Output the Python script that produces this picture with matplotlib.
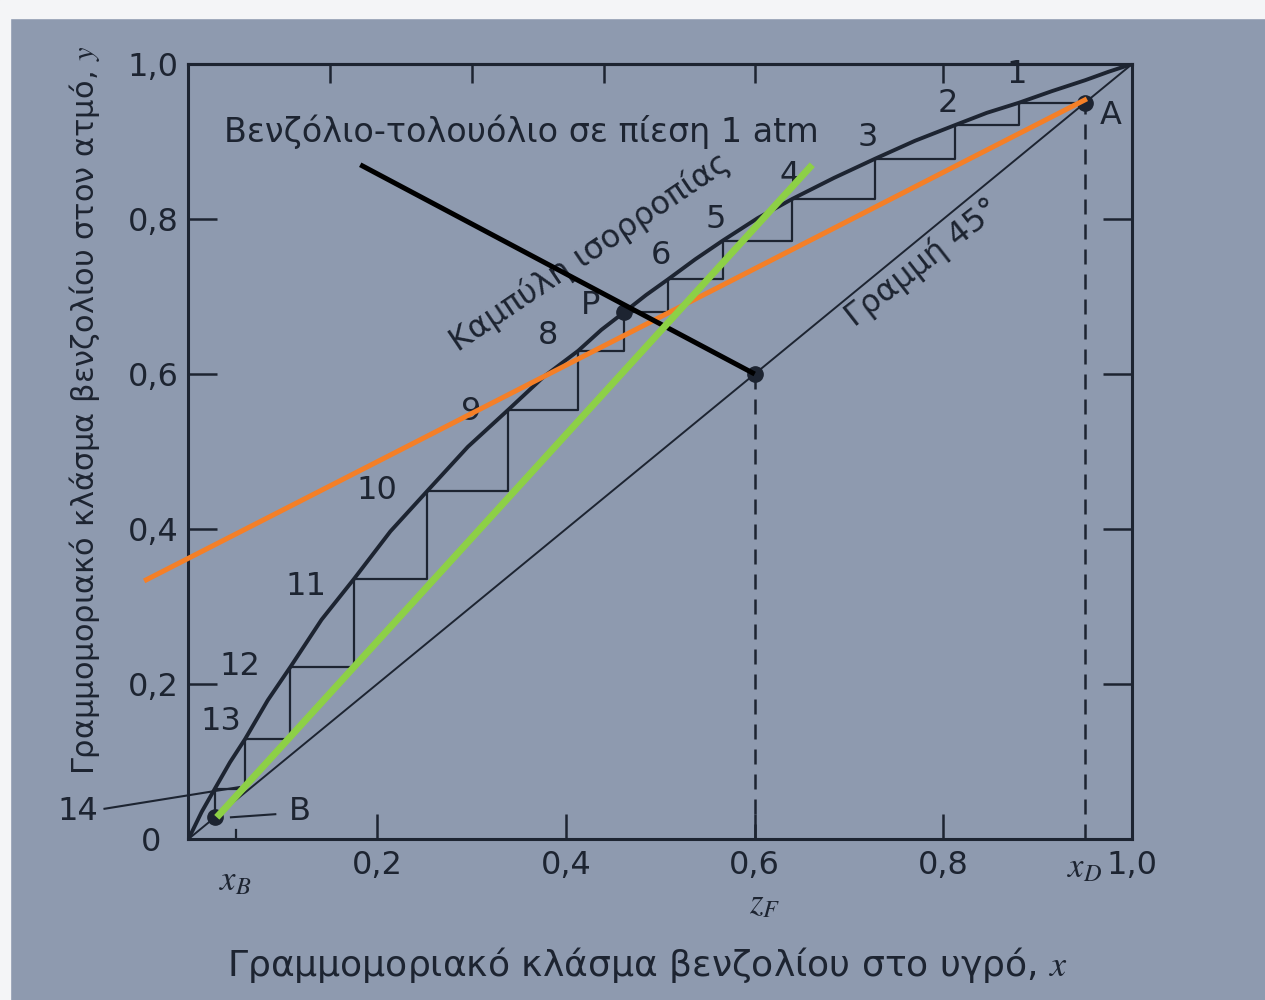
import matplotlib
matplotlib.use('Agg')
import matplotlib.pyplot as plt
from matplotlib.patches import Rectangle

plt.rcParams['font.family'] = ['DejaVu Sans']
plt.rcParams['mathtext.fontset'] = 'stix'

# ---------------- data ----------------
# equilibrium curve (benzene-toluene, 1 atm)
eq_x = [0.0, 0.014, 0.028, 0.044, 0.060, 0.084, 0.108, 0.141, 0.175, 0.214,
        0.253, 0.296, 0.339, 0.376, 0.413, 0.4375, 0.462, 0.485, 0.508, 0.537,
        0.566, 0.603, 0.640, 0.684, 0.728, 0.770, 0.812, 0.846, 0.880, 0.915,
        0.950, 0.975, 1.0]
eq_y = [0.0, 0.035, 0.065, 0.099, 0.129, 0.179, 0.222, 0.283, 0.335, 0.397,
        0.449, 0.506, 0.554, 0.596, 0.630, 0.657, 0.680, 0.702, 0.722, 0.748,
        0.772, 0.801, 0.826, 0.853, 0.878, 0.901, 0.921, 0.937, 0.950, 0.965,
        0.979, 0.990, 1.0]

# stage (tray) points on the equilibrium curve, stage 1 .. 14
stage_x = [0.880, 0.812, 0.728, 0.640, 0.566, 0.508, 0.462, 0.413, 0.339,
           0.253, 0.175, 0.108, 0.060, 0.028]
stage_y = [0.950, 0.921, 0.878, 0.826, 0.772, 0.722, 0.680, 0.630, 0.554,
           0.449, 0.335, 0.222, 0.129, 0.065]
stage_labels = ['1', '2', '3', '4', '5', '6', 'P', '8', '9', '10', '11', '12', '13']
stage_label_x = [0.878, 0.805, 0.720, 0.637, 0.559, 0.501, 0.426, 0.381, 0.300,
                 0.200, 0.124, 0.054, 0.034]
stage_label_y = [0.986, 0.949, 0.905, 0.856, 0.800, 0.753, 0.688, 0.650, 0.552,
                 0.450, 0.326, 0.222, 0.151]

x_D = 0.95
z_F = 0.60
x_B = 0.028          # bottoms point B on the 45 deg line
x_B_mark = 0.05      # small tick labelled x_B

# hand-drawn overlay lines (endpoints)
orange_x = [-0.047, 0.952]
orange_y = [0.333, 0.955]
green_x = [0.030, 0.661]
green_y = [0.028, 0.870]
black_x = [0.182, 0.600]
black_y = [0.870, 0.600]

# leader lines for "14" and "B"
lead14_x = [-0.089, 0.054]
lead14_y = [0.039, 0.067]
leadB_x = [0.045, 0.092]
leadB_y = [0.028, 0.032]

x_ticks = [0.2, 0.4, 0.6, 0.8, 1.0]
x_tick_labels = ['0,2', '0,4', '0,6', '0,8', '1,0']
y_ticks = [0.2, 0.4, 0.6, 0.8, 1.0]
y_tick_labels = ['0,2', '0,4', '0,6', '0,8', '1,0']
top_ticks = [0.15, 0.30, 0.44, 0.60, 0.80]

PAPER = '#8e9aaf'
INK = '#1d2431'

fig = plt.figure(figsize=(12.65, 10), dpi=100, facecolor=PAPER)
fig.patches.append(Rectangle((0, 0.982), 1, 0.018, transform=fig.transFigure,
                             color='#f4f5f7', zorder=0))
fig.patches.append(Rectangle((0, 0), 0.008, 1, transform=fig.transFigure,
                             color='#f4f5f7', zorder=0))

ax = fig.add_axes([0.149, 0.161, 0.746, 0.775])
ax.set_facecolor(PAPER)
ax.set_xlim(0, 1)
ax.set_ylim(0, 1)
for s in ax.spines.values():
    s.set_color(INK)
    s.set_linewidth(2.2)

ax.set_xticks(x_ticks, x_tick_labels)
ax.set_yticks(y_ticks, y_tick_labels)
ax.tick_params(axis='x', direction='in', length=18, width=1.8, pad=8,
               labelsize=23, colors=INK)
ax.tick_params(axis='y', direction='in', length=21, width=1.8, pad=7,
               labelsize=23, colors=INK, right=True)
sec = ax.secondary_xaxis('top')
sec.set_xticks(top_ticks)
sec.set_xticklabels([])
sec.tick_params(direction='in', length=14, width=1.8, colors=INK)
sec.spines['top'].set_linewidth(2.2)
sec.spines['top'].set_color(INK)

# 45 degree line
ax.plot([0, 1], [0, 1], color=INK, lw=1.4, zorder=2)
# equilibrium curve
ax.plot(eq_x, eq_y, color=INK, lw=2.8, zorder=3, solid_joinstyle='round')

# staircase
sx, sy = [x_D], [x_D]
n = len(stage_x)
for i in range(n):
    sx.append(stage_x[i]); sy.append(stage_y[i])
    nxt = stage_y[i + 1] if i + 1 < n else stage_x[i]
    sx.append(stage_x[i]); sy.append(nxt)
ax.plot(sx, sy, color=INK, lw=1.6, zorder=2)

# dashed verticals
ax.plot([x_D, x_D], [0, x_D], color=INK, lw=1.8, ls=(0, (6, 4)), zorder=2)
ax.plot([z_F, z_F], [0, z_F], color=INK, lw=1.8, ls=(0, (6, 4)), zorder=2)
# x_B small tick
ax.plot([x_B_mark, x_B_mark], [0, 0.012], color=INK, lw=1.6, zorder=2)

# points
ax.plot([x_D, stage_x[6], z_F, x_B], [x_D, stage_y[6], z_F, x_B], 'o',
        ms=11, color=INK, zorder=5)

# leader lines
ax.plot(lead14_x, lead14_y, color=INK, lw=1.5, clip_on=False, zorder=2)
ax.plot(leadB_x, leadB_y, color=INK, lw=1.5, clip_on=False, zorder=2)

# overlays
ax.plot(orange_x, orange_y, color='#f47f27', lw=3.6, clip_on=False, zorder=6,
        solid_capstyle='butt')
ax.plot(green_x, green_y, color='#8dd046', lw=5.0, clip_on=False, zorder=7,
        solid_capstyle='butt')
ax.plot(black_x, black_y, color='#000000', lw=3.6, clip_on=False, zorder=6,
        solid_capstyle='butt')

# texts
tk = dict(color=INK, ha='center', va='center')
for t, x, y in zip(stage_labels, stage_label_x, stage_label_y):
    ax.text(x, y, t, fontsize=23, **tk)
ax.text(-0.117, 0.036, '14', fontsize=23, clip_on=False, **tk)
ax.text(0.977, 0.933, 'A', fontsize=23, **tk)
ax.text(0.118, 0.035, 'B', fontsize=23, **tk)
ax.text(-0.040, -0.005, '0', fontsize=23, clip_on=False, **tk)
ax.text(x_D, -0.037, '$x_D$', fontsize=25, clip_on=False, **tk)
ax.text(z_F + 0.01, -0.083, '$z_F$', fontsize=25, clip_on=False, **tk)
ax.text(x_B_mark, -0.053, '$x_B$', fontsize=25, clip_on=False, **tk)

ax.text(0.038, 0.913, 'Βενζόλιο-τολουόλιο σε πίεση 1 atm', fontsize=24,
        color=INK, ha='left', va='center')
ax.text(0.425, 0.757, 'Καμπύλη ισορροπίας', fontsize=23, rotation=34,
        rotation_mode='anchor', **tk)
ax.text(0.778, 0.743, 'Γραμμή 45°', fontsize=23, rotation=38,
        rotation_mode='anchor', **tk)

fig.text(0.067, 0.59, 'Γραμμομοριακό κλάσμα βενζολίου στον ατμό, $y$',
         fontsize=22, rotation=90, color=INK, ha='center', va='center')
fig.text(0.512, 0.035, 'Γραμμομοριακό κλάσμα βενζολίου στο υγρό, $x$',
         fontsize=26, color=INK, ha='center', va='center')

fig.savefig('out.png', dpi=100, facecolor=fig.get_facecolor())
